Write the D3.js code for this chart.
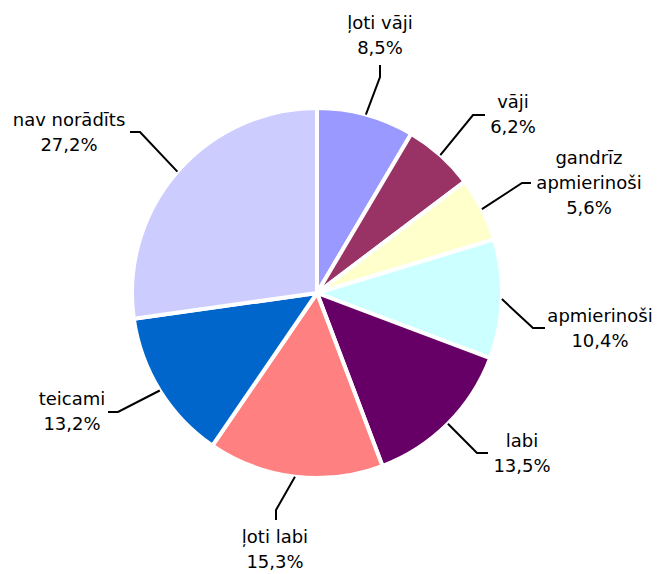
<!DOCTYPE html>
<html>
<head>
<meta charset="utf-8">
<script src="https://cdn.jsdelivr.net/npm/d3@7"></script>
<style>
  body { margin: 0; background: #fff; }
  text { font-family: "DejaVu Sans", Verdana, sans-serif; font-size: 18px; fill: #000; }
</style>
</head>
<body>
<div id="chart"></div>
<script>
// data
var categories = ["ļoti vāji", "vāji", "gandrīz apmierinoši", "apmierinoši", "labi", "ļoti labi", "teicami", "nav norādīts"];
var labelLines = [["ļoti vāji"], ["vāji"], ["gandrīz", "apmierinoši"], ["apmierinoši"], ["labi"], ["ļoti labi"], ["teicami"], ["nav norādīts"]];
var values = [8.5, 6.2, 5.6, 10.4, 13.5, 15.3, 13.2, 27.2];
var colors = ["#9999ff", "#993366", "#ffffcc", "#ccffff", "#660066", "#ff8080", "#0066cc", "#ccccff"];

// label layout (leader elbow, tail end, label centre / first baseline), px
var labelLayout = [
  { elbow: [380, 77],  tail: [380, 65],  x: 380, y: 29 },
  { elbow: [473, 115], tail: [485, 115], x: 513, y: 108 },
  { elbow: [522, 183], tail: [531, 183], x: 589, y: 164 },
  { elbow: [533, 328], tail: [545, 328], x: 600, y: 322 },
  { elbow: [477, 453], tail: [488, 453], x: 522, y: 447 },
  { elbow: [276, 510], tail: [276, 520], x: 275, y: 543 },
  { elbow: [118, 412], tail: [108, 412], x: 72,  y: 405 },
  { elbow: [140, 132], tail: [130, 132], x: 69,  y: 126 }
];

var svgWidth = 659;
var svgHeight = 574;
var cx = 317, cy = 293, radius = 185;
var lineGap = 25;

var svg = d3.select("#chart")
  .append("svg")
  .attr("width", svgWidth)
  .attr("height", svgHeight);

var pie = d3.pie().sort(null).value(d => d);
var arcs = pie(values);

var arc = d3.arc().innerRadius(0).outerRadius(radius);

var pieGroup = svg.append("g")
  .attr("transform", `translate(${cx}, ${cy})`);

pieGroup.selectAll("path")
  .data(arcs)
  .enter()
  .append("path")
  .attr("d", arc)
  .attr("fill", (d, i) => colors[i])
  .attr("stroke", "#fff")
  .attr("stroke-width", 4)
  .attr("stroke-linejoin", "round");

// leader lines start on the rim at the slice's middle angle
svg.selectAll("polyline.leader")
  .data(arcs)
  .enter()
  .append("polyline")
  .attr("class", "leader")
  .attr("points", function(d, i) {
    var a = (d.startAngle + d.endAngle) / 2;
    var sx = cx + radius * Math.sin(a);
    var sy = cy - radius * Math.cos(a);
    var L = labelLayout[i];
    return [[sx, sy], L.elbow, L.tail].map(p => p.join(",")).join(" ");
  })
  .attr("fill", "none")
  .attr("stroke", "#000")
  .attr("stroke-width", 2);

var labels = svg.selectAll("text.lbl")
  .data(arcs)
  .enter()
  .append("text")
  .attr("class", "lbl")
  .attr("text-anchor", "middle");

labels.each(function(d, i) {
  var t = d3.select(this);
  var L = labelLayout[i];
  var lines = labelLines[i].concat([String(values[i]).replace(".", ",") + "%"]);
  lines.forEach(function(s, k) {
    t.append("tspan")
      .attr("x", L.x)
      .attr("y", L.y + k * lineGap)
      .text(s);
  });
});
</script>
</body>
</html>
